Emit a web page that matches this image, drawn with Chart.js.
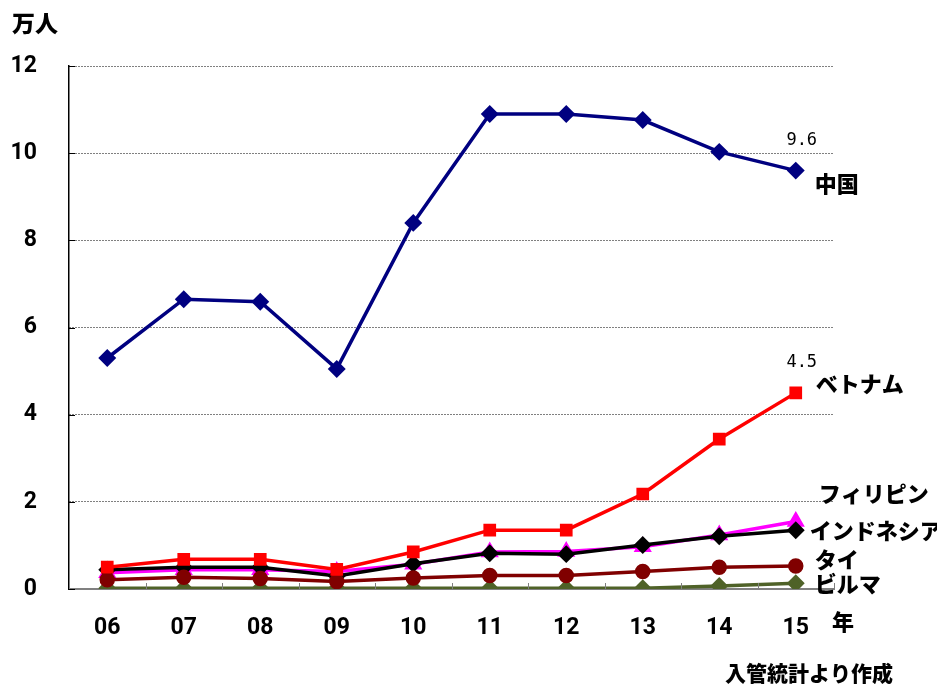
<!DOCTYPE html>
<html>
<head>
<meta charset="utf-8">
<script src="https://cdn.jsdelivr.net/npm/chart.js@4"></script>
<style>
  html, body { margin: 0; padding: 0; background: #fff; }
  canvas { display: block; }
</style>
</head>
<body>
<canvas id="chart" width="937" height="684"></canvas>
<script>
// Foreign residents by nationality, in units of 10,000 people
const years       = ['06', '07', '08', '09', '10', '11', '12', '13', '14', '15'];
const china       = [5.30, 6.65, 6.59, 5.05, 8.40, 10.90, 10.90, 10.76, 10.03, 9.6];
const vietnam     = [0.50, 0.68, 0.68, 0.45, 0.85, 1.35, 1.35, 2.18, 3.44, 4.5];
const philippines = [0.37, 0.44, 0.44, 0.40, 0.57, 0.85, 0.86, 0.97, 1.24, 1.55];
const indonesia   = [0.44, 0.50, 0.50, 0.30, 0.58, 0.82, 0.80, 1.01, 1.21, 1.35];
const thailand    = [0.21, 0.27, 0.24, 0.17, 0.25, 0.31, 0.31, 0.40, 0.50, 0.53];
const burma       = [0.02, 0.02, 0.02, 0.02, 0.02, 0.02, 0.02, 0.02, 0.07, 0.13];
const seriesNames = ['中国', 'ベトナム', 'フィリピン', 'インドネシア', 'タイ', 'ビルマ'];
const yTickValues = [0, 2, 4, 6, 8, 10, 12];
const unitLabel   = '万人';
const yearLabel   = '年';
const sourceNote  = '入管統計より作成';

const numFont = { family: '"Liberation Sans Narrow", "Roboto", sans-serif', size: 23, weight: 'bold' };
const jpFont = '900 22px "Noto Sans CJK JP", sans-serif';

// line style per series: colour, marker, marker radius, draw order, end-label offset, value tag
const styles = [
  { color: '#000080', point: 'rectRot',  r: 6.5, order: 1, dx: 19, dy: 13,  tag: true },
  { color: '#FF0000', point: 'rect',     r: 6.5, order: 2, dx: 20, dy: -9,  tag: true },
  { color: '#FF00FF', point: 'triangle', r: 7,   order: 5, dx: 23, dy: -28, tag: false },
  { color: '#000000', point: 'rectRot',  r: 6.5, order: 4, dx: 14, dy: 0,   tag: false },
  { color: '#800000', point: 'circle',   r: 6,   order: 3, dx: 19, dy: -6,  tag: false },
  { color: '#4F6228', point: 'rectRot',  r: 6.5, order: 6, dx: 19, dy: 0,   tag: false }
];
const seriesData = [china, vietnam, philippines, indonesia, thailand, burma];

const datasets = seriesData.map((d, i) => ({
  label: seriesNames[i],
  data: d,
  borderColor: styles[i].color,
  backgroundColor: styles[i].color,
  pointBackgroundColor: styles[i].color,
  pointBorderColor: styles[i].color,
  pointStyle: styles[i].point,
  pointRadius: styles[i].r,
  borderWidth: 3.5,
  tension: 0,
  order: styles[i].order
}));

// inner tick marks, end-of-line labels, value tags and free text
const decorations = {
  id: 'decorations',
  afterDatasetsDraw(chart) {
    const { ctx, scales: { x, y }, chartArea } = chart;
    ctx.save();
    // inner ticks on the category axis, between years
    ctx.strokeStyle = '#808080';
    ctx.lineWidth = 1;
    for (let i = 0; i <= years.length; i++) {
      const px = Math.round(x.getPixelForValue(i - 0.5)) + 0.5;
      ctx.beginPath();
      ctx.moveTo(px, chartArea.bottom);
      ctx.lineTo(px, chartArea.bottom - 6);
      ctx.stroke();
    }
    // inner ticks on the value axis
    ctx.strokeStyle = '#000';
    yTickValues.forEach(v => {
      const py = Math.round(y.getPixelForValue(v)) + 0.5;
      ctx.beginPath();
      ctx.moveTo(chartArea.left, py);
      ctx.lineTo(chartArea.left + 6, py);
      ctx.stroke();
    });
    ctx.restore();
  },
  afterDraw(chart) {
    const { ctx, scales: { x, y } } = chart;
    ctx.save();
    ctx.fillStyle = '#000';
    ctx.textBaseline = 'middle';
    const last = years.length - 1;
    seriesData.forEach((d, i) => {
      const st = styles[i];
      const px = x.getPixelForValue(last);
      const py = y.getPixelForValue(d[last]);
      ctx.font = jpFont;
      ctx.textAlign = 'left';
      ctx.fillText(seriesNames[i], px + st.dx, py + st.dy);
      if (st.tag) {
        ctx.font = '17px "DejaVu Sans Mono", monospace';
        ctx.textAlign = 'center';
        ctx.fillText(d[last].toFixed(1), px + 6, py - 30);
      }
    });
    ctx.font = '900 23px "Noto Sans CJK JP", sans-serif';
    ctx.textAlign = 'left';
    ctx.fillText(unitLabel, 12, 23);
    ctx.font = jpFont;
    ctx.fillText(yearLabel, 832, 622);
    ctx.font = '900 21px "Noto Sans CJK JP", sans-serif';
    ctx.fillText(sourceNote, 725, 673);
    ctx.restore();
  }
};

new Chart(document.getElementById('chart'), {
  type: 'line',
  data: { labels: years, datasets },
  options: {
    responsive: false,
    animation: false,
    layout: { padding: { top: 66, right: 103, left: 0, bottom: 0 } },
    plugins: { legend: { display: false }, tooltip: { enabled: false } },
    scales: {
      x: {
        offset: true,
        grid: { display: false, drawTicks: false },
        border: { color: '#808080', width: 2 },
        ticks: { font: numFont, color: '#000', padding: 25, maxRotation: 0 },
        afterFit(s) { s.height = 95; }
      },
      y: {
        min: 0,
        max: 12,
        afterBuildTicks(s) { s.ticks = yTickValues.map(v => ({ value: v })); },
        grid: {
          drawTicks: false,
          lineWidth: 1,
          color: c => (c.tick && c.tick.value === 0 ? 'rgba(0,0,0,0)' : '#000')
        },
        border: { color: '#000', width: 1.5, dash: [1, 2] },
        ticks: { font: numFont, color: '#000', padding: 32 },
        afterFit(s) { s.width = 69; }
      }
    }
  },
  plugins: [decorations]
});
</script>
</body>
</html>
